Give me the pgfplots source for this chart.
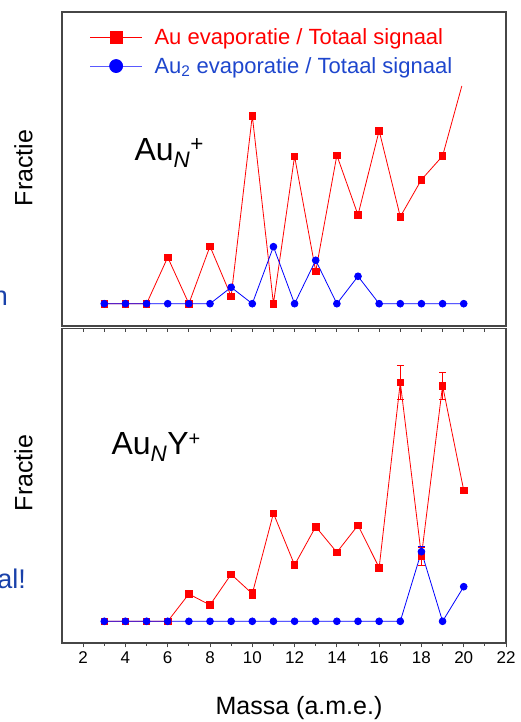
\documentclass[border=0pt]{standalone}
\usepackage{fontspec}
\setmainfont{Liberation Sans}
\usepackage{pgfplots}
\pgfplotsset{compat=1.18}
\definecolor{framegray}{RGB}{70,70,70}
\definecolor{slideblue}{RGB}{25,65,170}
\definecolor{legblue}{RGB}{30,70,205}
\newcommand{\fs}[1]{\fontsize{#1}{#1}\selectfont}
\begin{document}
\begin{tikzpicture}
\useasboundingbox (0pt,0pt) rectangle (521pt,722pt);
% ---------- top panel ----------
\begin{axis}[at={(62pt,396pt)}, anchor=south west, scale only axis,
  width=444pt, height=314pt,
  xmin=1, xmax=22, ymin=-22.3, ymax=291.7,
  xtick=\empty, ytick=\empty,
  axis line style={framegray, line width=1.3pt},
  legend cell align=left,
  legend style={at={(0.062,0.95)}, anchor=north west, draw=none, fill=none,
    inner sep=0pt, row sep=9pt, column sep=11pt, font=\fs{22}, nodes={inner sep=1pt}},
  legend image code/.code={\draw[mark repeat=2,mark phase=2,#1]
     plot coordinates {(0pt,0pt) (26pt,0pt) (52pt,0pt)};},
]
\addlegendimage{red, line width=0.8pt, mark=square*, mark size=6pt}
\addlegendentry{\textcolor{red}{Au evaporatie / Totaal signaal}}
\addlegendimage{blue!65!white, line width=0.8pt, mark=*, mark size=6.5pt, mark options={blue}}
\addlegendentry{\textcolor{legblue}{Au\textsubscript{2} evaporatie / Totaal signaal}}
\addplot[red, line width=0.8pt, mark=square*, mark size=3.3pt, forget plot]
 coordinates {(3,0) (4,0) (5,0) (6,46.4) (7,0) (8,57.4) (9,7.4) (10,188) (11,0)
  (12,147.4) (13,32.4) (14,148.4) (15,88.7) (16,173) (17,87) (18,124) (19,147.7)};
\addplot[red, line width=0.8pt, no marks, forget plot]
 coordinates {(19,147.7) (19.91,217.7)};
\addplot[blue, line width=0.8pt, mark=*, mark size=3.4pt, forget plot]
 coordinates {(3,0) (4,0) (5,0) (6,0) (7,0) (8,0) (9,16.4) (10,0) (11,57) (12,0)
  (13,43.4) (14,0) (15,27.4) (16,0) (17,0) (18,0) (19,0) (20,0)};
\end{axis}
% ---------- bottom panel ----------
\begin{axis}[at={(62pt,79pt)}, anchor=south west, scale only axis,
  width=444pt, height=314.5pt,
  xmin=1, xmax=22, ymin=-21.7, ymax=292.8,
  xtick={2,4,...,22}, minor xtick={3,5,...,21}, ytick=\empty,
  xtick pos=bottom, tick align=outside,
  major tick length=4.5pt, minor tick length=3pt,
  tick style={framegray, line width=0.8pt},
  axis line style={framegray, line width=1.3pt},
  /pgf/number format/assume math mode=true,
  xticklabel style={font=\fs{17}, yshift=-1pt},
]
\addplot[red, line width=0.8pt, mark=square*, mark size=3.3pt,
  error bars/.cd, y dir=both, y explicit,
  error bar style={red, line width=0.8pt},
  error mark options={rotate=90, mark size=3.5pt, red, line width=0.8pt}]
 coordinates {(3,0) (4,0) (5,0) (6,0) (7,27.3) (8,16.3) (9,47) (10,27.6) +- (0,4.7)
  (11,108) (12,56.3) (13,94.6) (14,69) (15,96) (16,53.6) (17,239) +- (0,17)
  (18,65.3) +- (0,9) (19,235.6) +- (0,13.3) (20,131)};
\addplot[blue, line width=0.8pt, mark=*, mark size=3.4pt,
  error bars/.cd, y dir=both, y explicit,
  error bar style={blue, line width=0.8pt},
  error mark options={rotate=90, mark size=3.5pt, blue, line width=0.8pt}]
 coordinates {(3,0) (4,0) (5,0) (6,0) (7,0) (8,0) (9,0) (10,0) (11,0) (12,0)
  (13,0) (14,0) (15,0) (16,0) (17,0) (18,69.6) +- (0,5) (19,0) (20,34.6)};
\end{axis}
% top ticks of bottom panel (inward)
\begin{axis}[at={(62pt,79pt)}, anchor=south west, scale only axis,
  width=444pt, height=314.5pt,
  xmin=1, xmax=22, ymin=0, ymax=1,
  xtick={2,4,...,22}, minor xtick={3,5,...,21}, ytick=\empty,
  xticklabels={}, xtick pos=top, tick align=inside,
  major tick length=4pt, minor tick length=3.5pt,
  tick style={framegray, line width=0.8pt},
  axis line style={draw=none},
]
\addplot[draw=none] coordinates {(1,0)};
\end{axis}
% ---------- labels ----------
\node[rotate=90, font=\fs{25}] at (23.5pt,554pt) {Fractie};
\node[rotate=90, font=\fs{25}] at (23.5pt,249pt) {Fractie};
\node[anchor=base, font=\fs{25}] at (299pt,7pt) {Massa (a.m.e.)};
\node[anchor=west, font=\fs{32}] at (131pt,569pt) {Au\textsubscript{\textit{N}}\textsuperscript{+}};
\node[anchor=west, font=\fs{32}] at (108pt,275pt) {Au\textsubscript{\textit{N}}Y\textsuperscript{\fs{20}+}};
\node[anchor=base east, font=\fs{27}, text=slideblue, inner sep=0pt] at (8pt,416pt) {n};
\node[anchor=base east, font=\fs{27}, text=slideblue, inner sep=0pt] at (26pt,133pt) {al!};
\end{tikzpicture}
\end{document}
